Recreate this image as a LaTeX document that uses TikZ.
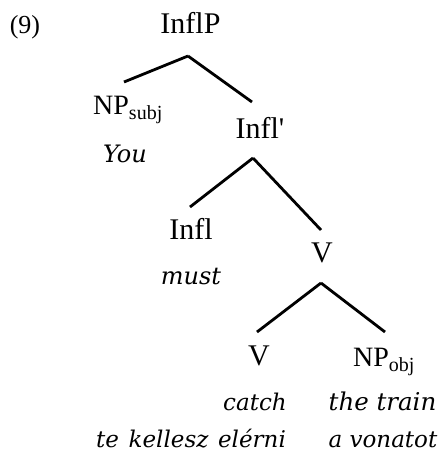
\documentclass[tikz,border=0pt]{standalone}
\usepackage{fontspec}
\setmainfont{Liberation Serif}
\newfontfamily\exfont{DejaVu Serif}
\usetikzlibrary{calc}
\begin{document}
\begin{tikzpicture}[x=1pt,y=-1pt,
  cat/.style={font=\fontsize{30}{36}\selectfont, inner sep=0pt, anchor=base},
  np/.style={font=\fontsize{28}{32}\selectfont, inner sep=0pt, anchor=base west},
  ex/.style={font=\exfont\itshape\fontsize{24}{28}\selectfont, inner sep=0pt, anchor=base},
  exs/.style={font=\exfont\itshape\fontsize{23}{26}\selectfont, inner sep=0pt, anchor=base},
  br/.style={line width=2.8pt}]
\useasboundingbox (0,0) rectangle (439,459);
\newcommand{\npsub}[1]{NP\raisebox{-0.18em}{\fontsize{20}{21}\selectfont #1}}
\node[cat, font=\fontsize{26}{30}\selectfont] (num) at (25,33) {(9)};
\node[cat] (inflp) at (190.5,33) {InflP};
\node[np] (npsubj) at (93,114) {\npsub{subj}};
\node[ex] (you) at (125,162) {You};
\node[cat] (inflbar) at (260,138) {Infl\textquotesingle};
\node[cat] (infl) at (191,239) {Infl};
\node[ex] (must) at (191,284) {must};
\node[cat] (vp) at (322,262) {V};
\node[cat] (v) at (259,365) {V};
\node[np] (npobj) at (353,366) {\npsub{obj}};
\node[ex, font=\exfont\itshape\fontsize{23}{28}\selectfont] (catch) at (255,410) {catch};
\node[ex, font=\exfont\itshape\fontsize{24.5}{28}\selectfont] (train) at (382.5,410) {the train};
\node[exs] (hu1) at (191,447) {te\hspace{0.42em}kellesz\hspace{0.42em}elérni};
\node[exs] (hu2) at (383,447) {a vonatot};
\draw[br] ($(inflp.base)+(-2.5,23)$) -- ($(npsubj.base west)+(31,-32)$);
\draw[br] ($(inflp.base)+(-2.5,23)$) -- ($(inflbar.base)+(-8,-36)$);
\draw[br] ($(inflbar.base)+(-7,20)$) -- ($(infl.base)+(-1,-32)$);
\draw[br] ($(inflbar.base)+(-7,20)$) -- ($(vp.base)+(-1,-32)$);
\draw[br] ($(vp.base)+(-1,21)$) -- ($(v.base)+(-2,-33)$);
\draw[br] ($(vp.base)+(-1,21)$) -- ($(npobj.base west)+(32,-34)$);
\end{tikzpicture}
\end{document}
